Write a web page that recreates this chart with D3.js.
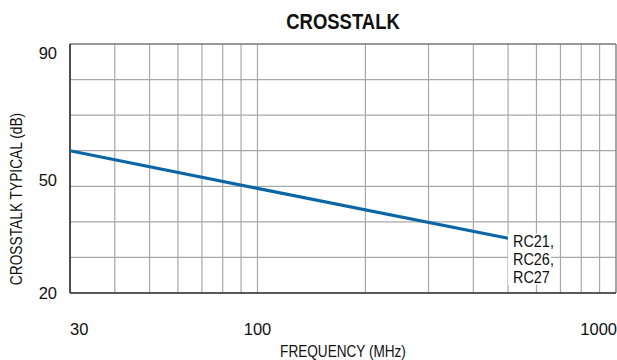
<!DOCTYPE html>
<html>
<head>
<meta charset="utf-8">
<script src="https://cdn.jsdelivr.net/npm/d3@7"></script>
<style>
  html, body { margin: 0; padding: 0; background: #fff; }
  svg { display: block; }
  text { font-family: "Liberation Sans", Arial, sans-serif; fill: #111; }
</style>
</head>
<body>
<svg id="chart" width="617" height="360"></svg>
<script>
// Crosstalk vs frequency
const freqMHz      = [30, 100, 500];
const crosstalkDb  = [60, 49.4, 35.4];
const xGridMHz     = [40, 50, 60, 70, 80, 90, 100, 200, 300, 400, 500, 600, 700, 800, 900];
const yGridDb      = [30, 40, 50, 60, 70, 80];
const xTickLabels  = ["30", "100", "1000"];
const yTickLabels  = ["90", "50", "20"];
const seriesLabel  = ["RC21,", "RC26,", "RC27"];

const svg = d3.select("#chart");
const m = { left: 70, right: 1, top: 44, bottom: 67 };
const W = 617, H = 360;

const x = d3.scaleLog().domain([30, 1000]).range([m.left, W - m.right]);
const y = d3.scaleLinear().domain([20, 90]).range([H - m.bottom, m.top]);

// condensed-looking text: horizontally squeezed sans
function label(parent, px, py, str, opts = {}) {
  const { size = 16, anchor = "start", sx = 0.85, weight = "normal", rotate = 0 } = opts;
  const g = parent.append("g")
    .attr("transform", `translate(${px},${py}) rotate(${rotate}) scale(${sx},1)`);
  g.append("text").attr("text-anchor", anchor).attr("font-size", size)
    .attr("font-weight", weight).text(str);
  return g;
}

// grid
const grid = svg.append("g").attr("stroke", "#a8a8a8").attr("stroke-width", 1.2);
grid.selectAll("line.v").data(xGridMHz).join("line")
  .attr("x1", d => x(d)).attr("x2", d => x(d))
  .attr("y1", y(20)).attr("y2", y(90));
grid.selectAll("line.h").data(yGridDb).join("line")
  .attr("x1", x(30)).attr("x2", x(1000))
  .attr("y1", d => y(d)).attr("y2", d => y(d));

// frame: top/right light, left/bottom dark
svg.append("line").attr("x1", x(30)).attr("x2", x(1000)).attr("y1", y(90)).attr("y2", y(90))
  .attr("stroke", "#777").attr("stroke-width", 1.3);
svg.append("line").attr("x1", x(1000)).attr("x2", x(1000)).attr("y1", y(90)).attr("y2", y(20))
  .attr("stroke", "#777").attr("stroke-width", 1.3);
svg.append("line").attr("x1", x(30)).attr("x2", x(30)).attr("y1", y(90)).attr("y2", y(20))
  .attr("stroke", "#222").attr("stroke-width", 1.6);
svg.append("line").attr("x1", x(30)).attr("x2", x(1000)).attr("y1", y(20)).attr("y2", y(20))
  .attr("stroke", "#222").attr("stroke-width", 1.6);

// curve
const pts = freqMHz.map((f, i) => [f, crosstalkDb[i]]);
svg.append("path").datum(pts)
  .attr("fill", "none").attr("stroke", "#0b66a6").attr("stroke-width", 3.2)
  .attr("d", d3.line().x(d => x(d[0])).y(d => y(d[1])));

// series label with white backing
const lx = x(freqMHz[freqMHz.length - 1]) + 5;
const ly = y(crosstalkDb[crosstalkDb.length - 1]) + 8.5;
svg.append("rect").attr("x", lx - 5).attr("y", ly - 13).attr("width", 43).attr("height", 51).attr("fill", "#fff");
seriesLabel.forEach((s, i) => label(svg, lx, ly + i * 18.3, s, { size: 16, sx: 0.9 }));

// y tick labels
const yNudge = { "90": 15, "50": 0, "20": 6 };
yTickLabels.forEach(t => label(svg, 57, y(+t) + yNudge[t], t, { size: 16.5, anchor: "end", sx: 1 }));

// x tick labels
const xAnchor = { "30": "start", "100": "middle", "1000": "end" };
xTickLabels.forEach(t => label(svg, t === "1000" ? W : x(+t), 335, t,
  { size: 16.5, anchor: xAnchor[t], sx: 1 }));

// titles
label(svg, 343, 29, "CROSSTALK", { size: 22, anchor: "middle", weight: "bold", sx: 0.84 });
label(svg, 343, 357, "FREQUENCY (MHz)", { size: 16, anchor: "middle", sx: 0.85 });
label(svg, 21.5, 199, "CROSSTALK TYPICAL (dB)", { size: 16, anchor: "middle", sx: 0.86, rotate: -90 });
</script>
</body>
</html>
